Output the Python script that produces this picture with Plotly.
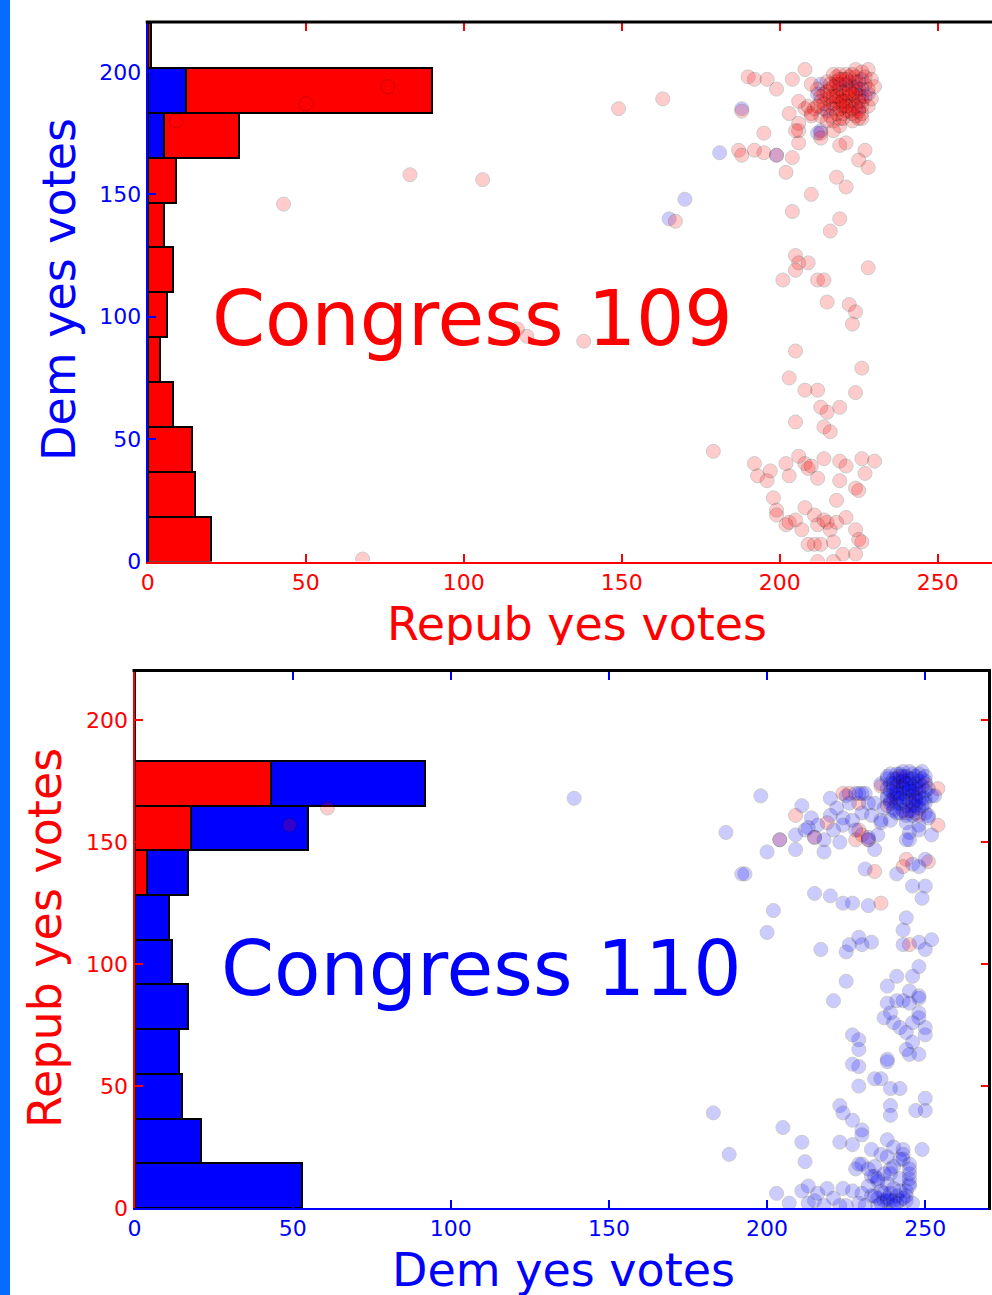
import plotly.graph_objects as go

# ---------------- data ----------------
bin_edges = [i * 220 / 12 for i in range(13)]
bin_centers = [(bin_edges[i] + bin_edges[i + 1]) / 2 for i in range(12)]

# Congress 109 histogram counts (Dem yes votes bins)
c109_hist_blue = [0, 0, 0, 0, 0, 0, 0, 0, 0, 5, 12, 0]
c109_hist_red = [20, 15, 14, 8, 4, 6, 8, 5, 9, 24, 78, 1]
# Congress 110 histogram counts (Repub yes votes bins)
c110_hist_red = [0, 0, 0, 0, 0, 0, 0, 4, 18, 43, 0, 0]
c110_hist_blue = [53, 21, 15, 14, 17, 12, 11, 13, 37, 49, 0, 0]

# Congress 109 scatter: (Repub yes votes, Dem yes votes)
c109_blue_pts = [(165, 140), (170, 148), (181, 167), (188, 185), (199, 166), (213, 176), (212, 175),
                 (213, 195), (212, 191), (215, 184), (225, 185), (226, 193), (226, 197), (219, 195),
                 (228, 191), (224, 194), (226, 190), (222, 196)]
c109_red_pts = [
    (9, 180), (50, 187), (76, 194), (43, 146), (83, 158), (106, 156), (68, 1), (149, 185), (163, 189),
    (117, 95), (120, 92), (138, 90), (179, 45), (167, 139), (188, 184),
    (190, 198), (192, 197), (196, 197), (199, 193), (204, 197), (208, 201),
    (187, 168), (188, 166), (192, 168), (195, 167), (199, 166), (204, 165), (202, 159), (195, 175),
    (203, 183), (206, 176), (206, 171), (210, 150), (204, 143), (218, 157), (221, 153), (219, 140),
    (216, 135), (227, 168), (225, 164), (228, 161), (219, 170), (221, 171), (219, 178), (213, 175),
    (205, 125), (206, 122), (209, 122), (205, 119), (201, 115), (212, 115), (214, 115), (228, 120),
    (215, 106), (222, 105),
    (224, 102), (223, 97), (205, 86), (226, 79), (203, 75), (208, 70), (212, 70), (224, 69), (213, 63),
    (215, 61), (219, 63), (205, 57), (214, 55), (216, 53),
    (192, 40), (193, 35), (197, 37), (196, 33), (202, 40), (203, 35), (206, 43), (208, 40), (209, 38),
    (210, 39), (212, 34), (214, 42), (219, 41), (221, 39), (219, 33), (226, 42), (230, 41), (227, 36),
    (224, 30), (225, 29), (198, 26), (218, 25), (199, 21), (199, 19), (208, 22), (211, 19),
    (202, 15), (203, 16), (205, 17), (207, 13), (212, 15), (214, 17), (215, 16), (216, 13), (218, 16),
    (221, 18), (224, 13), (225, 9), (226, 8), (209, 7), (211, 7), (213, 7), (217, 8), (220, 3), (224, 3),
    (212, 0), (217, 0),
    (210, 195), (208, 185), (209, 186), (206, 188), (210, 182), (206, 179), (205, 176), (213, 182),
    (217, 185), (221, 184), (224, 182), (226, 181), (224, 201), (228, 201), (229, 197), (218, 198),
    (221, 199), (217, 199), (222, 193), (224, 190), (225, 190), (230, 194), (220, 190), (218, 192),
    (216, 193), (215, 189), (218, 188), (221, 188), (223, 188), (213, 188), (211, 185), (210, 183),
    (215, 180), (217, 180), (219, 181), (223, 180), (225, 181), (226, 183), (228, 186), (229, 189),
    (217, 176), (213, 173),
    (219, 187), (220, 192), (222, 190), (220, 186), (223, 194), (219, 189), (221, 195), (224, 196),
    (222, 186), (217, 190), (220, 183), (223, 185), (216, 186), (225, 193), (226, 188), (227, 195),
    (214, 191), (212, 193), (215, 196), (218, 195),
    (216, 195), (218, 196), (220, 197), (222, 198), (224, 198), (219, 193), (221, 191), (223, 191),
    (225, 188), (226, 186), (224, 186), (222, 184), (220, 181), (218, 183), (216, 182), (214, 185),
    (217, 187), (219, 185), (221, 186), (223, 183), (225, 184), (227, 190), (228, 193), (227, 198),
    (226, 200), (223, 199), (219, 199), (217, 194), (215, 192), (213, 190), (214, 187), (212, 186),
    (216, 190), (218, 190), (220, 188), (222, 192), (224, 192), (225, 196), (221, 197), (219, 197),
]

# Congress 110 scatter: (Dem yes votes, Repub yes votes)
c110_red_pts = [
    (61, 164), (49, 157), (204, 151), (209, 161), (215, 152), (219, 158), (224, 170), (226, 170),
    (228, 151), (229, 155), (232, 151), (234, 138), (245, 108), (244, 143), (243, 140), (254, 157),
    (254, 172), (250, 174), (242, 177), (236, 173), (229, 166), (230, 153), (236, 125), (251, 142),
    (243, 176), (247, 170), (240, 168), (246, 166), (244, 162), (248, 161), (238, 165), (241, 173),
]
c110_blue_pts = [
    (139, 168), (198, 169), (187, 154), (193, 137), (192, 137), (200, 146), (204, 151), (209, 147),
    (209, 153), (212, 155), (213, 156), (215, 152), (218, 151), (218, 146), (220, 168), (220, 161),
    (223, 150), (229, 170), (231, 170), (224, 160), (224, 157), (227, 159), (230, 162), (232, 151),
    (234, 166), (234, 147), (231, 139), (236, 158), (235, 153), (239, 159), (236, 174), (238, 177),
    (241, 137), (244, 119), (243, 114), (243, 108), (248, 109), (252, 110), (250, 106), (248, 99),
    (246, 132), (250, 132), (249, 127), (248, 140), (250, 143), (246, 141), (245, 151), (245, 179),
    (248, 157), (252, 169), (251, 161), (252, 153),
    (215, 129), (220, 128), (224, 125), (227, 125), (232, 124), (202, 122), (200, 113), (217, 106),
    (225, 105), (226, 108), (229, 111), (230, 108), (233, 109),
    (249, 179), (239, 174), (251, 172), (240, 170), (244, 171), (248, 172), (250, 168), (241, 166),
    (244, 165), (247, 165), (242, 162), (246, 161), (250, 162), (253, 169), (251, 160), (238, 169),
    (230, 170), (228, 170), (225, 169), (232, 166), (236, 159), (244, 158), (245, 154), (248, 155),
    (244, 151), (232, 152),
    (242, 175), (245, 176), (247, 177), (243, 173), (246, 173), (240, 176), (244, 168), (241, 172),
    (246, 169), (248, 175), (243, 170), (239, 167), (247, 168), (242, 168), (245, 163), (249, 165),
    (240, 163), (243, 177), (246, 178), (241, 178), (250, 175), (238, 172),
    (238, 176), (239, 178), (240, 174), (241, 176), (242, 178), (243, 175), (244, 177), (245, 174),
    (246, 176), (247, 174), (248, 178), (249, 176), (250, 177), (239, 171), (240, 172), (242, 170),
    (243, 172), (245, 171), (246, 171), (247, 172), (248, 170), (249, 173), (250, 171), (238, 168),
    (239, 166), (241, 168), (242, 166), (243, 167), (245, 167), (246, 165), (248, 167), (249, 168),
    (250, 166), (240, 164), (241, 162), (243, 163), (244, 161), (246, 163), (247, 162), (248, 164),
    (243, 179), (245, 172), (244, 174), (241, 170), (247, 167),
    (211, 165), (214, 160), (222, 164), (226, 166), (228, 155), (233, 161), (237, 164), (221, 155),
    (216, 157),
    (225, 93), (221, 85), (241, 95), (246, 95), (238, 91), (245, 89), (238, 84), (241, 85), (243, 85),
    (248, 87), (248, 86), (245, 84), (248, 80), (239, 80), (237, 78), (240, 76), (242, 74), (248, 78),
    (246, 76), (250, 74), (250, 71), (244, 72), (246, 68), (244, 65), (245, 63), (248, 63), (227, 71),
    (229, 69), (229, 65), (227, 59), (229, 58), (238, 60), (238, 61), (234, 53), (236, 53), (239, 49),
    (242, 49), (229, 50), (239, 42), (239, 38), (247, 40), (250, 40), (250, 45), (223, 42), (224, 39),
    (227, 36), (230, 32), (230, 30),
    (183, 39), (188, 22), (205, 33), (211, 27), (212, 19), (223, 27), (227, 26), (233, 24), (238, 28),
    (240, 25), (236, 22), (243, 24), (249, 24), (243, 20), (245, 18), (245, 14), (245, 10), (239, 16),
    (238, 10), (230, 18), (228, 16), (233, 13), (235, 12), (241, 5), (244, 5), (237, 3), (238, 3),
    (203, 6), (207, 2), (211, 7), (213, 9), (219, 8), (224, 8), (227, 7), (213, 2), (215, 3), (218, 1),
    (223, 1), (225, 1), (233, 5), (235, 4), (239, 3), (242, 3), (244, 3), (243, 22), (242, 20),
    (245, 16), (245, 12), (245, 9),
    (230, 6), (232, 9), (236, 7), (240, 8), (242, 12), (234, 17), (229, 2), (231, 1), (240, 1), (246, 2),
    (221, 4), (216, 6), (238, 21), (240, 17), (237, 14), (239, 14), (234, 13), (235, 11), (234, 5),
    (229, 18), (232, 16),
    (236, 2), (238, 4), (240, 3), (241, 2), (243, 4), (237, 6), (239, 6), (242, 7), (244, 7), (235, 1),
]

xticks = [0, 50, 100, 150, 200, 250]
yticks = [0, 50, 100, 150, 200]

# ---------------- layout geometry (pixels) ----------------
W, H = 992, 1295
def px(x):
    return x / W
def py(y):
    return 1 - y / H

top_l, top_r, top_t, top_b = 147.7, 992.0, 23.0, 561.5
bot_l, bot_r, bot_t, bot_b = 134.5, 988.5, 671.5, 1208.0

RED = "#ff0000"
BLUE = "#0000ff"
FONT = "DejaVu Sans"

fig = go.Figure()

bar_w = 220 / 12
def bars(vals, color, xa, ya, name):
    fig.add_trace(go.Bar(
        x=vals, y=bin_centers, orientation="h", width=bar_w,
        marker=dict(color=color, line=dict(color="black", width=2)),
        xaxis=xa, yaxis=ya, name=name, showlegend=False, hoverinfo="skip"))

bars(c109_hist_blue, BLUE, "x", "y", "109 dem")
bars(c109_hist_red, RED, "x", "y", "109 rep")
bars(c110_hist_red, RED, "x2", "y2", "110 rep")
bars(c110_hist_blue, BLUE, "x2", "y2", "110 dem")

def pts(lst, color, xa, ya):
    fig.add_trace(go.Scatter(
        x=[p[0] for p in lst], y=[p[1] for p in lst], mode="markers",
        marker=dict(size=14, color=color, opacity=0.2, line=dict(color="black", width=1)),
        xaxis=xa, yaxis=ya, showlegend=False, hoverinfo="skip"))

pts(c109_blue_pts, BLUE, "x", "y")
pts(c109_red_pts, RED, "x", "y")
pts(c110_red_pts, RED, "x2", "y2")
pts(c110_blue_pts, BLUE, "x2", "y2")

# clipped axis title of the upper panel (its descenders are cut off in the original)
fig.add_trace(go.Scatter(
    x=[577], y=[628], mode="text", text=["Repub yes votes"], textposition="middle center",
    textfont=dict(family=FONT, size=46, color=RED), cliponaxis=True,
    xaxis="x3", yaxis="y3", showlegend=False, hoverinfo="skip"))

def axis(dom, rng, tv, color, anchor, mirror):
    return dict(domain=dom, range=rng, tickvals=tv, ticktext=[str(t) for t in tv],
                ticks="inside", ticklen=8, tickwidth=1.5, tickcolor=color,
                showline=True, linecolor=color, linewidth=2, mirror=mirror,
                showgrid=False, zeroline=False, anchor=anchor, fixedrange=True,
                automargin=False,
                tickfont=dict(family=FONT, size=22, color=color))

top_xrange = [0, (top_r - top_l) / 3.16]
fig.update_layout(
    template="none",
    width=W, height=H, margin=dict(l=0, r=0, t=0, b=0, pad=0, autoexpand=False),
    paper_bgcolor="white", plot_bgcolor="rgba(0,0,0,0)", barmode="stack",
    xaxis=axis([px(top_l), px(top_r)], top_xrange, xticks, RED, "y", "ticks"),
    yaxis=axis([py(top_b), py(top_t)], [0, 220], yticks, BLUE, "x", False),
    xaxis2=axis([px(bot_l), px(bot_r)], [0, 270], xticks, BLUE, "y2", "ticks"),
    yaxis2=axis([py(bot_b), py(bot_t)], [0, 220], yticks, RED, "x2", "ticks"),
    xaxis3=dict(domain=[0, 1], range=[0, W], visible=False, anchor="y3", fixedrange=True,
                automargin=False),
    yaxis3=dict(domain=[py(645), py(585)], range=[645, 585], visible=False, anchor="x3",
                fixedrange=True, automargin=False),
)

shapes = [
    dict(type="rect", xref="paper", yref="paper", x0=0, x1=px(10), y0=0, y1=1,
         fillcolor="rgb(5,108,255)", line=dict(width=0), layer="above"),
    dict(type="line", xref="paper", yref="paper", x0=px(top_l - 2), x1=1, y0=py(top_t - 1), y1=py(top_t - 1),
         line=dict(color="black", width=3), layer="above"),
    dict(type="line", xref="paper", yref="paper", x0=px(bot_l - 2), x1=px(bot_r + 2.5), y0=py(bot_t - 1),
         y1=py(bot_t - 1), line=dict(color="black", width=3), layer="above"),
    dict(type="line", xref="paper", yref="paper", x0=px(bot_r + 1), x1=px(bot_r + 1), y0=py(bot_b + 2),
         y1=py(bot_t - 2.5), line=dict(color="black", width=3), layer="above"),
]
fig.update_layout(shapes=shapes)

def ann(text, x, y, size, color, angle=0, xanchor="center"):
    return dict(text=text, x=px(x), y=py(y), xref="paper", yref="paper", showarrow=False,
                xanchor=xanchor, yanchor="middle", textangle=angle,
                font=dict(family=FONT, size=size, color=color))

fig.update_layout(annotations=[
    ann("Dem yes votes", 59, 290, 46, BLUE, -90),
    ann("Congress 109", 210, 318, 76, RED, xanchor="left"),
    ann("Dem yes votes", 563, 1270, 46, BLUE),
    ann("Repub yes votes", 45, 938, 46, RED, -90),
    ann("Congress 110", 219, 968, 76, BLUE, xanchor="left"),
])

fig.write_html("out.html")
